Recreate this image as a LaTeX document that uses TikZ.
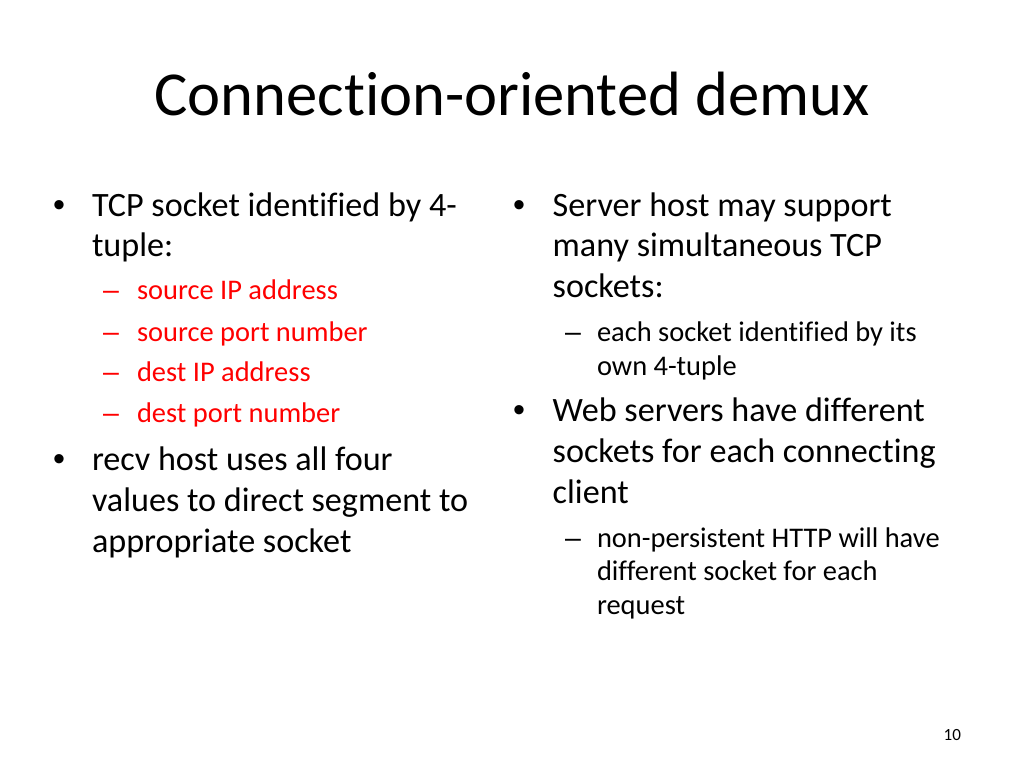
\documentclass[tikz,border=0pt]{standalone}
\usepackage{fontspec}
\setmainfont{Carlito}[Ligatures={NoCommon,NoRequired,NoContextual}]
\newfontfamily\bulfont{Liberation Sans}
\begin{document}
\begin{tikzpicture}[x=0.703125pt,y=-0.703125pt,
  txt/.style={anchor=base west,inner sep=0pt,outer sep=0pt},
  lvl1/.style={txt,font=\fontsize{24}{29}\selectfont},
  lvl2/.style={txt,font=\fontsize{20}{24}\selectfont},
  red2/.style={lvl2,text=red},
  bulletmark/.style={txt,font=\bulfont\fontsize{24}{29}\selectfont},
  dashmark/.style={txt,font=\bulfont\fontsize{20}{24}\selectfont}]
\useasboundingbox[fill=white] (0,0) rectangle (1024,768);
\node[txt,anchor=base,font=\fontsize{44}{53}\selectfont] (title) at (512,116) {Connection-oriented demux};
% left column
\node[bulletmark] (b1dot) at (53,216.5) {•};
\node[lvl1] (b1a) at (92,216.5) {TCP socket identified by 4-};
\node[lvl1] (b1b) at (92,257) {tuple:};
\node[dashmark,text=red] (d1) at (103,300) {–};
\node[red2] (s1) at (137,300) {source IP address};
\node[dashmark,text=red] (d2) at (103,341) {–};
\node[red2] (s2) at (137,341) {source port number};
\node[dashmark,text=red] (d3) at (103,381.5) {–};
\node[red2] (s3) at (137,381.5) {dest IP address};
\node[dashmark,text=red] (d4) at (103,422.5) {–};
\node[red2] (s4) at (137,422.5) {dest port number};
\node[bulletmark] (b2dot) at (53,470) {•};
\node[lvl1] (b2a) at (92,470) {recv host uses all four};
\node[lvl1] (b2b) at (92,511) {values to direct segment to};
\node[lvl1] (b2c) at (92,552) {appropriate socket};
% right column
\node[bulletmark] (b3dot) at (513,216.5) {•};
\node[lvl1] (b3a) at (552.7,216.5) {Server host may support};
\node[lvl1] (b3b) at (552.7,257) {many simultaneous TCP};
\node[lvl1] (b3c) at (552.7,298) {sockets:};
\node[dashmark] (d5) at (565,341) {–};
\node[lvl2] (s5a) at (597,341) {each socket identified by its};
\node[lvl2] (s5b) at (597,375) {own 4-tuple};
\node[bulletmark] (b4dot) at (513,421.5) {•};
\node[lvl1] (b4a) at (552.7,421.5) {Web servers have different};
\node[lvl1] (b4b) at (552.7,462.5) {sockets for each connecting};
\node[lvl1] (b4c) at (552.7,503) {client};
\node[dashmark] (d6) at (565,547.5) {–};
\node[lvl2] (s6a) at (597,547.5) {non-persistent HTTP will have};
\node[lvl2] (s6b) at (597,580.5) {different socket for each};
\node[lvl2] (s6c) at (597,614) {request};
\node[txt,anchor=base east,font=\fontsize{12}{14}\selectfont] (pg) at (961,740) {10};
\end{tikzpicture}
\end{document}
